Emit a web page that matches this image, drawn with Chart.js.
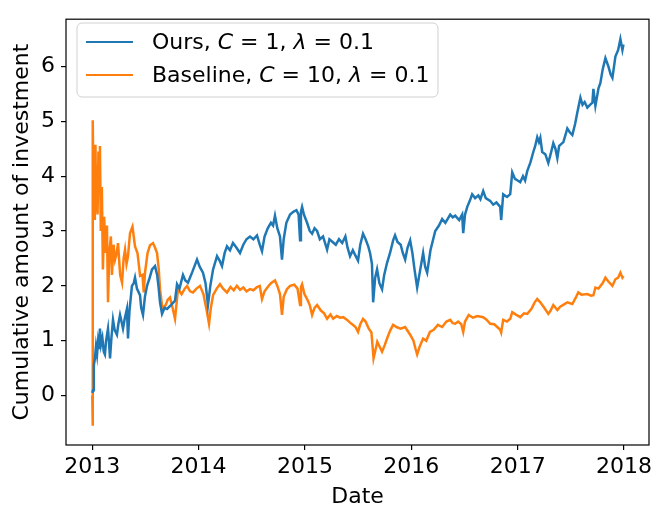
<!DOCTYPE html>
<html>
<head>
<meta charset="utf-8">
<script src="https://cdn.jsdelivr.net/npm/chart.js@4.4.1/dist/chart.umd.min.js"></script>
<style>
  html, body { margin: 0; padding: 0; background: #fff; }
  #wrap { width: 665px; height: 520px; }
</style>
</head>
<body>
<div id="wrap"><canvas id="chart" width="665" height="520"></canvas></div>
<script>
// dates are decimal years, values are cumulative investment
const oursDates = [
  2013.000, 2013.007, 2013.015, 2013.025, 2013.035, 2013.045, 2013.054, 2013.063, 2013.072, 2013.082,
  2013.095, 2013.108, 2013.119, 2013.130, 2013.148, 2013.158, 2013.167, 2013.180, 2013.195, 2013.210,
  2013.232, 2013.245, 2013.261, 2013.275, 2013.289, 2013.305, 2013.326, 2013.336, 2013.350, 2013.373,
  2013.390, 2013.402, 2013.420, 2013.449, 2013.460, 2013.477, 2013.495, 2013.515, 2013.540, 2013.562,
  2013.590, 2013.610, 2013.625, 2013.637, 2013.656, 2013.680, 2013.703, 2013.740, 2013.778, 2013.797,
  2013.820, 2013.853, 2013.875, 2013.900, 2013.940, 2013.985, 2014.010, 2014.041, 2014.065, 2014.088,
  2014.110, 2014.136, 2014.173, 2014.200, 2014.220, 2014.245, 2014.267, 2014.295, 2014.323, 2014.355,
  2014.389, 2014.420, 2014.450, 2014.483, 2014.515, 2014.549, 2014.575, 2014.596, 2014.620, 2014.650,
  2014.680, 2014.700, 2014.718, 2014.740, 2014.765, 2014.784, 2014.800, 2014.825, 2014.860, 2014.890,
  2014.920, 2014.940, 2014.954, 2014.962, 2014.973, 2014.990, 2015.020, 2015.045, 2015.067, 2015.090,
  2015.114, 2015.140, 2015.170, 2015.208, 2015.230, 2015.260, 2015.290, 2015.320, 2015.350, 2015.380,
  2015.400, 2015.424, 2015.450, 2015.475, 2015.499, 2015.520, 2015.546, 2015.570, 2015.595, 2015.612,
  2015.630, 2015.641, 2015.660, 2015.678, 2015.700, 2015.725, 2015.745, 2015.772, 2015.800, 2015.829,
  2015.847, 2015.870, 2015.900, 2015.920, 2015.942, 2015.965, 2015.989, 2016.010, 2016.030, 2016.055,
  2016.080, 2016.111, 2016.130, 2016.149, 2016.180, 2016.225, 2016.260, 2016.290, 2016.320, 2016.366,
  2016.390, 2016.413, 2016.450, 2016.478, 2016.488, 2016.505, 2016.526, 2016.550, 2016.572, 2016.600,
  2016.630, 2016.650, 2016.676, 2016.700, 2016.742, 2016.770, 2016.800, 2016.836, 2016.845, 2016.864,
  2016.900, 2016.930, 2016.949, 2016.975, 2017.000, 2017.024, 2017.050, 2017.070, 2017.090, 2017.120,
  2017.147, 2017.165, 2017.184, 2017.200, 2017.213, 2017.231, 2017.260, 2017.288, 2017.310, 2017.335,
  2017.355, 2017.373, 2017.390, 2017.401, 2017.430, 2017.467, 2017.490, 2017.514, 2017.540, 2017.561,
  2017.590, 2017.610, 2017.630, 2017.655, 2017.680, 2017.703, 2017.712, 2017.731, 2017.760, 2017.778,
  2017.800, 2017.825, 2017.853, 2017.875, 2017.891, 2017.919, 2017.945, 2017.966, 2017.985, 2017.995
];
const oursValues = [
  0.05, 0.10, 0.55, 0.68, 0.90, 0.75, 0.98, 0.85, 1.22, 0.93,
  1.05, 0.80, 0.75, 1.00, 1.22, 0.95, 0.68, 1.05, 1.38, 1.20,
  1.11, 1.30, 1.47, 1.35, 1.22, 1.40, 1.58, 1.04, 1.55, 2.00,
  2.05, 2.15, 1.95, 1.83, 1.60, 1.47, 1.80, 2.00, 2.15, 2.30,
  2.36, 2.20, 1.95, 1.70, 1.49, 1.60, 1.58, 1.65, 1.73, 2.03,
  1.95, 2.20, 2.10, 2.06, 2.25, 2.48, 2.35, 2.24, 2.05, 1.65,
  2.00, 2.30, 2.54, 2.45, 2.36, 2.60, 2.72, 2.65, 2.78, 2.70,
  2.60, 2.75, 2.85, 2.90, 2.85, 2.92, 2.75, 2.63, 2.90, 3.05,
  3.15, 3.10, 3.28, 3.05, 2.90, 2.48, 2.85, 3.15, 3.30, 3.35,
  3.38, 3.30, 2.83, 3.35, 3.44, 3.30, 3.15, 3.00, 2.95, 3.05,
  3.00, 2.85, 2.90, 2.66, 2.85, 2.80, 2.75, 2.85, 2.78, 2.90,
  2.70, 2.54, 2.65, 2.55, 2.46, 2.75, 2.95, 2.85, 2.72, 2.60,
  2.40, 1.70, 2.15, 2.30, 2.05, 1.94, 2.20, 2.42, 2.60, 2.83,
  2.92, 2.80, 2.75, 2.60, 2.48, 2.70, 2.83, 2.60, 2.30, 1.97,
  2.25, 2.60, 2.35, 2.24, 2.65, 3.00, 3.10, 3.22, 3.15, 3.30,
  3.25, 3.28, 3.20, 3.30, 2.96, 3.30, 3.44, 3.55, 3.67, 3.60,
  3.65, 3.58, 3.73, 3.60, 3.55, 3.48, 3.52, 3.44, 3.20, 3.67,
  3.62, 3.67, 4.07, 3.95, 3.92, 3.89, 4.00, 3.92, 4.09, 4.25,
  4.44, 4.55, 4.71, 4.62, 4.70, 4.44, 4.40, 4.24, 4.40, 4.60,
  4.50, 4.33, 4.55, 4.57, 4.62, 4.87, 4.80, 4.75, 4.95, 5.16,
  5.43, 5.30, 5.35, 5.25, 5.30, 5.34, 5.59, 5.28, 5.60, 5.70,
  5.95, 6.15, 6.00, 5.85, 5.79, 6.18, 6.30, 6.50, 6.30, 6.40
];

const baseDates = [
  2013.000, 2013.003, 2013.006, 2013.012, 2013.018, 2013.024, 2013.030, 2013.036, 2013.042, 2013.050,
  2013.058, 2013.066, 2013.072, 2013.080, 2013.090, 2013.100, 2013.112, 2013.125, 2013.138, 2013.148,
  2013.160, 2013.175, 2013.185, 2013.200, 2013.214, 2013.230, 2013.242, 2013.262, 2013.280, 2013.295,
  2013.308, 2013.322, 2013.336, 2013.355, 2013.378, 2013.402, 2013.425, 2013.450, 2013.472, 2013.484,
  2013.496, 2013.520, 2013.543, 2013.571, 2013.590, 2013.609, 2013.625, 2013.637, 2013.660, 2013.690,
  2013.710, 2013.731, 2013.755, 2013.778, 2013.806, 2013.840, 2013.870, 2013.891, 2013.920, 2013.947,
  2013.980, 2014.013, 2014.045, 2014.079, 2014.098, 2014.115, 2014.136, 2014.170, 2014.201, 2014.230,
  2014.267, 2014.300, 2014.330, 2014.360, 2014.390, 2014.420, 2014.450, 2014.483, 2014.515, 2014.549,
  2014.575, 2014.596, 2014.620, 2014.650, 2014.680, 2014.718, 2014.740, 2014.765, 2014.784, 2014.800,
  2014.830, 2014.860, 2014.900, 2014.930, 2014.954, 2014.962, 2014.973, 2014.995, 2015.020, 2015.045,
  2015.067, 2015.090, 2015.114, 2015.150, 2015.180, 2015.208, 2015.240, 2015.265, 2015.300, 2015.330,
  2015.360, 2015.397, 2015.424, 2015.450, 2015.475, 2015.499, 2015.520, 2015.546, 2015.570, 2015.600,
  2015.625, 2015.645, 2015.665, 2015.680, 2015.700, 2015.725, 2015.750, 2015.772, 2015.800, 2015.829,
  2015.860, 2015.900, 2015.942, 2015.989, 2016.020, 2016.040, 2016.055, 2016.080, 2016.111, 2016.140,
  2016.175, 2016.210, 2016.250, 2016.290, 2016.330, 2016.366, 2016.390, 2016.413, 2016.440, 2016.470,
  2016.488, 2016.505, 2016.540, 2016.580, 2016.620, 2016.676, 2016.710, 2016.742, 2016.780, 2016.836,
  2016.845, 2016.864, 2016.900, 2016.930, 2016.949, 2016.980, 2017.024, 2017.060, 2017.090, 2017.130,
  2017.160, 2017.184, 2017.213, 2017.250, 2017.288, 2017.310, 2017.335, 2017.373, 2017.400, 2017.467,
  2017.514, 2017.545, 2017.570, 2017.600, 2017.655, 2017.690, 2017.712, 2017.731, 2017.760, 2017.800,
  2017.825, 2017.853, 2017.891, 2017.919, 2017.945, 2017.966, 2017.985, 2017.995
];
const baseValues = [
  0.00, -0.55, 5.02, 3.40, 4.40, 3.20, 4.57, 3.37, 4.20, 3.30,
  4.45, 3.80, 4.55, 3.00, 3.80, 2.30, 3.26, 2.60, 3.10, 1.70,
  2.60, 2.90, 2.20, 2.75, 2.48, 2.60, 2.78, 2.20, 2.06, 2.50,
  2.66, 2.40, 2.54, 2.96, 3.08, 2.72, 2.60, 2.18, 2.20, 1.88,
  2.24, 2.60, 2.74, 2.78, 2.70, 2.60, 2.30, 1.94, 1.58, 1.65,
  1.75, 1.79, 1.60, 1.40, 1.94, 1.85, 1.95, 2.00, 1.90, 1.88,
  1.95, 2.00, 1.85, 1.52, 1.31, 1.60, 1.83, 1.95, 2.03, 1.95,
  1.88, 1.98, 1.92, 2.00, 1.93, 1.97, 1.90, 1.94, 1.92, 1.98,
  2.00, 1.76, 1.90, 1.98, 2.05, 2.10, 2.00, 1.85, 1.47, 1.80,
  1.94, 2.00, 2.02, 1.95, 1.65, 1.98, 2.03, 1.85, 1.76, 1.65,
  1.47, 1.60, 1.65, 1.55, 1.50, 1.40, 1.48, 1.40, 1.45, 1.42,
  1.43, 1.38, 1.33, 1.29, 1.25, 1.16, 1.30, 1.40, 1.35, 1.22,
  1.15, 0.68, 0.85, 0.98, 0.90, 0.80, 0.92, 1.04, 1.18, 1.29,
  1.25, 1.22, 1.25, 1.11, 1.00, 0.85, 0.75, 0.90, 1.04, 1.00,
  1.16, 1.20, 1.29, 1.25, 1.35, 1.38, 1.32, 1.31, 1.35, 1.30,
  1.16, 1.35, 1.47, 1.42, 1.45, 1.43, 1.38, 1.31, 1.30, 1.20,
  1.15, 1.38, 1.35, 1.40, 1.52, 1.48, 1.43, 1.50, 1.49, 1.58,
  1.70, 1.76, 1.70, 1.60, 1.49, 1.55, 1.65, 1.56, 1.62, 1.70,
  1.67, 1.78, 1.88, 1.84, 1.85, 1.82, 1.83, 1.97, 1.95, 2.05,
  2.15, 2.08, 2.00, 2.12, 2.15, 2.24, 2.15, 2.18
];

const yearTicks = [2013, 2014, 2015, 2016, 2017, 2018];
const valueTicks = [0, 1, 2, 3, 4, 5, 6];

const seriesNames = ['Ours', 'Baseline'];
const seriesC = [1, 10];
const seriesLambda = [0.1, 0.1];
const seriesColors = ['#1f77b4', '#ff7f0e'];

const FONT = 'DejaVu Sans';
Chart.defaults.font.family = FONT;
Chart.defaults.font.size = 22;
Chart.defaults.color = '#000';

// box round the plot area, like matplotlib spines
const framePlugin = {
  id: 'frame',
  afterDatasetsDraw(chart) {
    const { ctx, chartArea: a } = chart;
    ctx.save();
    ctx.strokeStyle = '#000';
    ctx.lineWidth = 1.2;
    ctx.strokeRect(a.left, a.top, a.right - a.left, a.bottom - a.top);
    ctx.restore();
  }
};

// legend with italic C and lambda
const legendPlugin = {
  id: 'mplLegend',
  afterDraw(chart) {
    const { ctx } = chart;
    const x0 = 77, y0 = 23, w = 361, h = 74;
    ctx.save();
    ctx.beginPath();
    ctx.roundRect(x0, y0, w, h, 5);
    ctx.fillStyle = 'rgba(255,255,255,0.8)';
    ctx.fill();
    ctx.strokeStyle = '#d0d0d0';
    ctx.lineWidth = 1;
    ctx.stroke();

    chart.data.datasets.forEach((ds, i) => {
      const y = 42 + i * 33;
      ctx.strokeStyle = ds.borderColor;
      ctx.lineWidth = 2.2;
      ctx.beginPath();
      ctx.moveTo(86, y);
      ctx.lineTo(133, y);
      ctx.stroke();

      const parts = [
        [seriesNames[i] + ', ', false],
        ['C', true],
        [' = ' + seriesC[i] + ', ', false],
        ['\u03bb', true],
        [' = ' + seriesLambda[i], false]
      ];
      let x = 152;
      ctx.fillStyle = '#000';
      ctx.textBaseline = 'middle';
      parts.forEach(([t, it]) => {
        ctx.font = (it ? 'italic ' : '') + '22px "' + FONT + '"';
        ctx.fillText(t, x, y + 1);
        x += ctx.measureText(t).width;
      });
    });
    ctx.restore();
  }
};

new Chart(document.getElementById('chart'), {
  type: 'line',
  data: {
    datasets: [
      {
        label: seriesNames[0],
        data: oursDates.map((d, i) => ({ x: d, y: oursValues[i] })),
        borderColor: seriesColors[0],
        borderWidth: 2.5
      },
      {
        label: seriesNames[1],
        data: baseDates.map((d, i) => ({ x: d, y: baseValues[i] })),
        borderColor: seriesColors[1],
        borderWidth: 2.5
      }
    ]
  },
  options: {
    responsive: false,
    animation: false,
    devicePixelRatio: 1,
    elements: { point: { radius: 0 }, line: { tension: 0 } },
    layout: { padding: { top: 12, right: 16, left: 0, bottom: 0 } },
    plugins: { legend: { display: false }, tooltip: { enabled: false } },
    scales: {
      x: {
        type: 'linear',
        min: 2012.753,
        max: 2018.235,
        afterBuildTicks: (axis) => { axis.ticks = yearTicks.map(v => ({ value: v })); },
        afterFit: (axis) => { axis.height = 75; },
        border: { display: false },
        grid: { drawOnChartArea: false, drawTicks: true, tickLength: 5, color: '#000', lineWidth: 1.2 },
        ticks: { padding: 4, maxRotation: 0, callback: (v) => String(v) },
        title: { display: true, text: 'Date', padding: { top: 0, bottom: 10 } }
      },
      y: {
        min: -0.9,
        max: 6.86,
        afterBuildTicks: (axis) => { axis.ticks = valueTicks.map(v => ({ value: v })); },
        afterFit: (axis) => { axis.width = 66; },
        border: { display: false },
        grid: { drawOnChartArea: false, drawTicks: true, tickLength: 5, color: '#000', lineWidth: 1.2 },
        ticks: { padding: 6, callback: (v) => String(v) },
        title: { display: true, text: 'Cumulative amount of investment', padding: { top: 9, bottom: 4 } }
      }
    }
  },
  plugins: [framePlugin, legendPlugin]
});
</script>
</body>
</html>
